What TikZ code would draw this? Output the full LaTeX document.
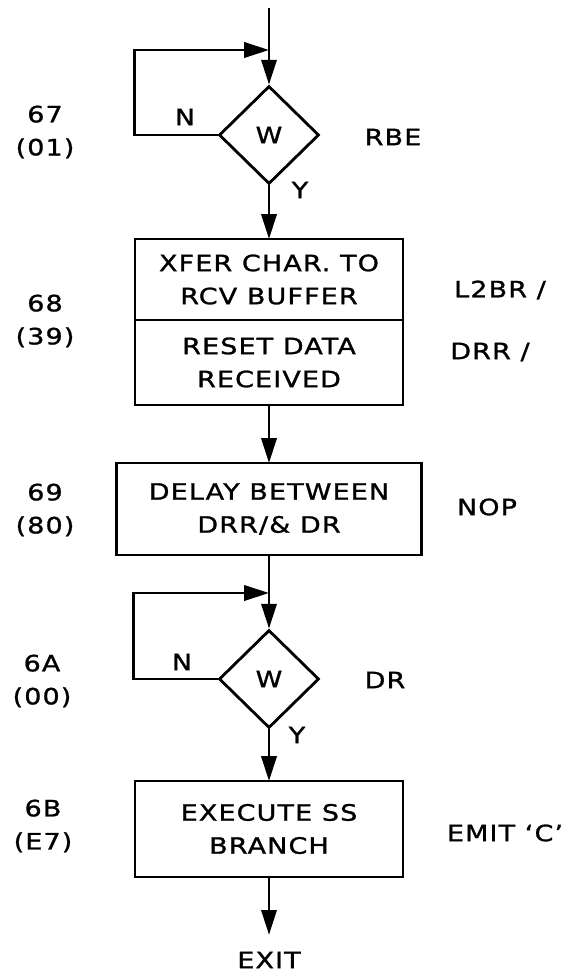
\documentclass[tikz,border=0pt]{standalone}
\usepackage{fontspec}
\setmainfont{DejaVu Sans}[FakeStretch=1.2,LetterSpace=5,FakeBold=1.2]
\usepackage{tikz}
\usetikzlibrary{arrows.meta,positioning,shapes.geometric}

\newcommand{\lettering}{\fontsize{16}{23.5}\selectfont}

\begin{document}
\begin{tikzpicture}[
        block/.style={
            draw,
            line width=2pt,
            outer sep=0pt,
            minimum width=6.7cm,
            minimum height=2.4cm,
            align=center,
            font=\lettering
        },
        decision/.style={
            draw,
            diamond,
            line width=2pt,
            inner sep=0pt,
            minimum width=2.5cm,
            minimum height=2.45cm,
            font=\lettering
        },
        addr/.style={font=\lettering, align=center},
        sidelabel/.style={font=\lettering},
        link/.style={line width=2pt},
        arrow/.style={-{Triangle[length=0.62cm,width=0.38cm]}, line width=2pt}
    ]

    \useasboundingbox (0,0) rectangle (14.3,-24.4);

    % Wait on RBE
    \coordinate (in) at (6.725,-0.2);
    \coordinate (j1) at (6.725,-1.25);
    \node[decision] (rbe) at (6.725,-3.375) {W};
    \node[sidelabel] (n1) at (4.625,-2.925) {N};
    \node[sidelabel] (y1) at (7.5,-4.75) {Y};
    \node[sidelabel] (sig1) at (9.825,-3.425) {RBE};
    \node[addr] (a67) at (1.125,-3.3) {67\\(01)};

    % Transfer / reset
    \node[block, minimum height=2.025cm] (xfer) at (6.725,-6.9875) {XFER CHAR. TO\\RCV BUFFER};
    \node[block, minimum height=2.125cm, below=0pt of xfer] (reset) {RESET DATA\\RECEIVED};
    \node[sidelabel] (sig2) at (12.5,-7.25) {L2BR /};
    \node[sidelabel] (sig3) at (12.25,-8.8) {DRR /};
    \node[addr] (a68) at (1.125,-8.025) {68\\(39)};

    % Delay
    \node[block, minimum width=7.625cm, minimum height=2.3cm] (delay) at (6.725,-12.725) {DELAY BETWEEN\\DRR/\& DR};
    \node[sidelabel] (sig4) at (12.175,-12.675) {NOP};
    \node[addr] (a69) at (1.125,-12.75) {69\\(80)};

    % Wait on DR
    \coordinate (j2) at (6.725,-14.825);
    \node[decision] (dr) at (6.725,-16.975) {W};
    \node[sidelabel] (n2) at (4.55,-16.55) {N};
    \node[sidelabel] (y2) at (7.425,-18.375) {Y};
    \node[sidelabel] (sig5) at (9.625,-17.0) {DR};
    \node[addr] (a6A) at (1.05,-17.025) {6A\\(00)};

    % Branch
    \node[block] (exec) at (6.725,-20.725) {EXECUTE SS\\BRANCH};
    \node[sidelabel] (sig6) at (12.625,-20.825) {EMIT `C'};
    \node[addr] (a6B) at (1.075,-20.65) {6B\\(E7)};
    \node[sidelabel] (exit) at (6.725,-24.0) {EXIT};

    % Arrows
    \draw[link] (in) -- (j1);
    \draw[arrow] (j1) -- (rbe.north);
    \draw[arrow] (rbe.west) -- ++(-2.075,0) |- (j1);
    \draw[arrow] (rbe.south) -- (xfer.north);
    \draw[arrow] (reset) -- (delay);
    \draw[link] (delay) -- (j2);
    \draw[arrow] (j2) -- (dr.north);
    \draw[arrow] (dr.west) -- ++(-2.1,0) |- (j2);
    \draw[arrow] (dr.south) -- (exec.north);
    \draw[arrow, shorten >=0.3cm] (exec) -- (exit);

\end{tikzpicture}
\end{document}
